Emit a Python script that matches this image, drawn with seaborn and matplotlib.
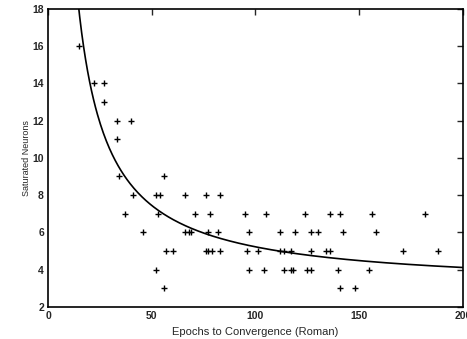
import numpy as np
import pandas as pd
import matplotlib
matplotlib.use("Agg")
import matplotlib.pyplot as plt
import seaborn as sns

# epochs to convergence and saturated neurons
epochs = [15, 22, 27, 27, 33, 40, 33,
          34, 56,
          41, 52, 54, 66, 76, 83,
          37, 53, 71, 78, 95, 105, 124, 136, 141, 156, 182,
          46, 66, 68, 69, 77, 82, 97, 112, 119, 127, 130, 142, 158,
          57, 60, 76, 77, 79, 83, 96, 101, 112, 114, 117, 127, 134, 136, 171, 188,
          52, 97, 104, 114, 117, 118, 125, 127, 140, 155,
          56, 141, 148]
saturated = [16, 14, 14, 13, 12, 12, 11,
             9, 9,
             8, 8, 8, 8, 8, 8,
             7, 7, 7, 7, 7, 7, 7, 7, 7, 7, 7,
             6, 6, 6, 6, 6, 6, 6, 6, 6, 6, 6, 6, 6,
             5, 5, 5, 5, 5, 5, 5, 5, 5, 5, 5, 5, 5, 5, 5, 5,
             4, 4, 4, 4, 4, 4, 4, 4, 4, 4,
             3, 3, 3]

# fitted curve y = a + b / x
fit_a = 3.0
fit_b = 222.0

xticks = [0, 50, 100, 150, 200]
yticks = [2, 4, 6, 8, 10, 12, 14, 16, 18]

df = pd.DataFrame({"epochs": epochs, "saturated": saturated})
xs = np.linspace(10, 200, 400)
curve = pd.DataFrame({"epochs": xs, "fit": fit_a + fit_b / xs})

sns.set_theme(style="white")
plt.rcParams["font.family"] = ["Liberation Sans", "DejaVu Sans"]

fig = plt.figure(figsize=(4.67, 3.39), dpi=100)
ax = fig.add_axes([0.103, 0.095, 0.888, 0.879])

sns.scatterplot(data=df, x="epochs", y="saturated", marker="+", color="black",
                s=18, linewidth=1.0, ax=ax, zorder=3)
sns.lineplot(data=curve, x="epochs", y="fit", color="black", linewidth=1.2, ax=ax)

ax.set_xlim(0, 200)
ax.set_ylim(2, 18)
ax.set_xticks(xticks)
ax.set_yticks(yticks)
ax.tick_params(direction="in", length=4, width=1, labelsize=7.5,
               top=True, right=True, pad=3)
for t in ax.get_xticklabels() + ax.get_yticklabels():
    t.set_fontweight("bold")
for s in ax.spines.values():
    s.set_color("black")
    s.set_linewidth(1.2)

ax.set_xlabel("Epochs to Convergence (Roman)", fontsize=8, labelpad=4)
ax.set_ylabel("Saturated Neurons", fontsize=6.5, labelpad=1)

fig.savefig("out.png", dpi=100)
